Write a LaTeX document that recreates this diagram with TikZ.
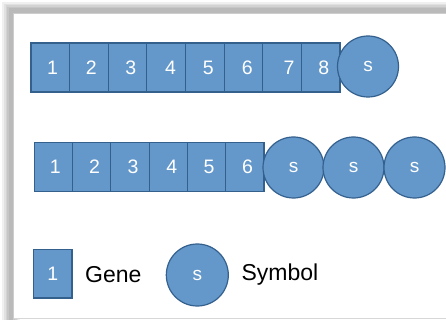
\documentclass[tikz,border=0pt]{standalone}
\usepackage{fontspec}
\setmainfont{Liberation Sans}
\definecolor{genefill}{RGB}{100,152,202}
\definecolor{genedraw}{RGB}{52,96,142}
\definecolor{framecol}{RGB}{205,205,205}
\begin{document}
\begin{tikzpicture}[x=1pt,y=-1pt,
  gbox/.style={rectangle, draw=genedraw, fill=genefill, line width=1.2pt,
    minimum height=49pt, inner sep=0pt, outer sep=0pt},
  sym/.style={circle, draw=genedraw, fill=genefill, line width=1.2pt,
    minimum size=61pt, inner sep=0pt, outer sep=0pt, text=white,
    font=\fontsize{19}{19}\selectfont},
  num/.style={text=white, inner sep=0pt, font=\fontsize{19.5}{19.5}\selectfont},
  lbl/.style={text=black, inner sep=0pt, anchor=west, font=\fontsize{23}{23}\selectfont}]
\useasboundingbox (0,0) rectangle (446,320);
\fill[white] (0,0) rectangle (446,320);
% frame shadow
\foreach \w in {18,14,11,8,5}
  \draw[black, opacity=0.06, line width=\w pt] (11,330) -- (11,11) -- (470,11);
\fill[white] (13.5,13.5) rectangle (446,318);
\draw[framecol, line width=1.3pt] (13.5,330) -- (13.5,13.5) -- (470,13.5);
\draw[framecol!80, line width=1pt] (13.5,318.5) -- (470,318.5);

% row 1
\foreach \i/\dx in {1/2.3,2/2.3,3/3.2,4/4.3,5/3.5,6/3.9,7/7,8/3.1} {
  \node[gbox, minimum width=38.625pt] (a\i) at ({31+38.625*(\i-0.5)},67.5) {};
  \node[num] (na\i) at ([xshift=\dx pt]a\i.center) {\i};
}
\node[sym] (as1) at (368,66.5) {s};

% row 2
\foreach \i/\dx in {1/1.8,2/2.8,3/3,4/3.5,5/2.4,6/2.7} {
  \node[gbox, minimum width=38.28pt] (b\i) at ({34.3+38.28*(\i-0.5)},167) {};
  \node[num] (nb\i) at ([xshift=\dx pt]b\i.center) {\i};
}
\node[sym] (bs1) at (293.5,167.5) {s};
\node[sym] (bs2) at (353.5,167.5) {s};
\node[sym] (bs3) at (414.5,167.5) {s};

% legend
\node[gbox, minimum width=38.7pt, minimum height=48.7pt] (lg) at (52.7,273.7) {};
\node[num] (lgn) at (lg.center) {1};
\node[lbl] (lgt) at (85,275) {Gene};
\node[sym, minimum size=62pt] (ls) at (197.3,275) {s};
\node[lbl] (lst) at (241.3,275) {Symbol};
\end{tikzpicture}
\end{document}
